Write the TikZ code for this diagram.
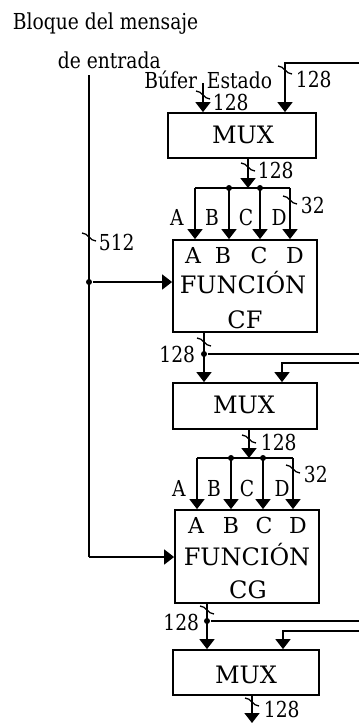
\documentclass[tikz,border=0pt]{standalone}
\usepackage{fontspec}
\setmainfont{DejaVu Serif}[FakeStretch=0.85]
\newfontfamily\boxfont{DejaVu Serif}
\usetikzlibrary{arrows.meta,calc}
\begin{document}
\begin{tikzpicture}[x=1pt,y=-1pt,
  line width=1.8pt,
  arr/.style={-{Triangle[width=15pt,length=10pt]}},
  box/.style={draw,line width=1.8pt,inner sep=0pt},
  lbl/.style={font=\fontsize{22}{24}\selectfont,inner sep=0pt,anchor=base},
  btxt/.style={font=\boxfont\fontsize{24}{26}\selectfont,inner sep=0pt,anchor=base},
  itxt/.style={font=\boxfont\fontsize{22}{24}\selectfont,inner sep=0pt,anchor=base},
  dot/.style={circle,fill,inner sep=0pt,minimum size=6pt},
  bustick/.pic={\draw[line width=1.3pt] (-7,-4) .. controls (-1,-4) and (1,4) .. (7,4);}
]
\useasboundingbox (0,0) rectangle (359,724);

% boxes
\node[box,minimum width=148pt,minimum height=45pt] (mux1) at (242,135.5) {};
\node[box,minimum width=144pt,minimum height=92pt] (cf) at (245,286) {};
\node[box,minimum width=144pt,minimum height=46pt] (mux2) at (245,406) {};
\node[box,minimum width=144pt,minimum height=93pt] (cg) at (247,556.5) {};
\node[box,minimum width=146pt,minimum height=45pt] (mux3) at (246,672.5) {};

% box texts
\node[btxt] (m1t) at (243,143) {MUX};
\node[itxt] (cfa) at (193,263) {A};
\node[itxt] (cfb) at (223,263) {B};
\node[itxt] (cfc) at (259,263) {C};
\node[itxt] (cfd) at (295,263) {D};
\node[btxt] (cff) at (243,293) {FUNCIÓN};
\node[btxt] (cfn) at (245,328) {CF};
\node[btxt] (m2t) at (244,413) {MUX};
\node[itxt] (cga) at (196,533) {A};
\node[itxt] (cgb) at (231,533) {B};
\node[itxt] (cgc) at (264,533) {C};
\node[itxt] (cgd) at (298,533) {D};
\node[btxt] (cgf) at (247,565) {FUNCIÓN};
\node[btxt] (cgn) at (248,598) {CG};
\node[btxt] (m3t) at (246,683) {MUX};

% top texts
\node[lbl,anchor=base west] (t1) at (12,29) {Bloque del mensaje};
\node[lbl,anchor=base west] (t2) at (57,68) {de entrada};
\node[lbl,anchor=base east] (tb) at (198,88) {Búfer};
\node[lbl,anchor=base west] (te) at (206,88) {Estado};

% MUX1 inputs
\coordinate (inL) at (203,83);
\draw[arr] (inL) -- (inL |- mux1.north);
\pic at (203,95) {bustick};
\node[lbl,anchor=base west] (l1) at (212,110) {128};
\coordinate (inR) at (359,63);
\coordinate (inRc) at (285,63);
\draw[arr] (inR) -- (inRc) -- (inRc |- mux1.north);
\pic at (285,70) {bustick};
\node[lbl,anchor=base west] (l2) at (295,87) {128};

% MUX1 output and bus 1
\coordinate (o1) at (248,158);
\coordinate (b1) at (248,188);
\draw[arr] (o1) -- (b1);
\pic at (248,167) {bustick};
\node[lbl,anchor=base west] (l3) at (257,178) {128};
\coordinate (b1a) at (195,188);
\coordinate (b1b) at (229,188);
\coordinate (b1c) at (260,188);
\coordinate (b1d) at (290,188);
\draw (b1a) -- (b1d);
\node[dot] (d1b) at (b1b) {};
\node[dot] (d1c) at (b1c) {};
\draw[arr] (b1a) -- (b1a |- cf.north);
\draw[arr] (b1b) -- (b1b |- cf.north);
\draw[arr] (b1c) -- (b1c |- cf.north);
\draw[arr] (b1d) -- (b1d |- cf.north);
\pic at (290,200) {bustick};
\node[lbl,anchor=base west] (l4) at (300,213) {32};
\node[lbl] (oa1) at (177,225) {A};
\node[lbl] (ob1) at (212,225) {B};
\node[lbl] (oc1) at (246,225) {C};
\node[lbl] (od1) at (279,225) {D};

% message input
\coordinate (msg) at (89,75);
\coordinate (msgb) at (89,557);
\node[dot] (dm) at (89,282) {};
\draw (msg) -- (msgb);
\draw[arr] (dm) -- (dm -| cf.west);
\draw[arr] (msgb) -- (msgb -| cg.west);
\pic at (89,237) {bustick};
\node[lbl,anchor=base west] (l5) at (98,250) {512};

% CF output to MUX2
\coordinate (o2) at (204,332);
\node[dot] (d2) at (204,354) {};
\draw[arr] (o2) -- (o2 |- mux2.north);
\draw (d2) -- (359,354);
\pic at (204,342) {bustick};
\node[lbl,anchor=base east] (l6) at (196,362) {128};
\coordinate (in2R) at (359,363);
\coordinate (in2c) at (282,363);
\draw[arr] (in2R) -- (in2c) -- (in2c |- mux2.north);

% MUX2 output and bus 2
\coordinate (o3) at (249,429);
\coordinate (b2) at (249,458);
\draw[arr] (o3) -- (b2);
\pic at (249,439) {bustick};
\node[lbl,anchor=base west] (l7) at (260,450) {128};
\coordinate (b2a) at (197,458);
\coordinate (b2b) at (231,458);
\coordinate (b2c) at (263,458);
\coordinate (b2d) at (293,458);
\draw (b2a) -- (b2d);
\node[dot] (d2b) at (b2b) {};
\node[dot] (d2c) at (b2c) {};
\draw[arr] (b2a) -- (b2a |- cg.north);
\draw[arr] (b2b) -- (b2b |- cg.north);
\draw[arr] (b2c) -- (b2c |- cg.north);
\draw[arr] (b2d) -- (b2d |- cg.north);
\pic at (293,469) {bustick};
\node[lbl,anchor=base west] (l8) at (303,482) {32};
\node[lbl] (oa2) at (179,496) {A};
\node[lbl] (ob2) at (214,496) {B};
\node[lbl] (oc2) at (247,496) {C};
\node[lbl] (od2) at (282,496) {D};

% CG output to MUX3
\coordinate (o4) at (207,603);
\node[dot] (d3) at (207,621) {};
\draw[arr] (o4) -- (o4 |- mux3.north);
\draw (d3) -- (359,621);
\pic at (207,610) {bustick};
\node[lbl,anchor=base east] (l9) at (200,630) {128};
\coordinate (in3R) at (359,631);
\coordinate (in3c) at (283,631);
\draw[arr] (in3R) -- (in3c) -- (in3c |- mux3.north);

% MUX3 output
\coordinate (o5) at (252,695);
\coordinate (e5) at (252,723);
\draw[arr] (o5) -- (e5);
\pic at (252,702) {bustick};
\node[lbl,anchor=base west] (l10) at (263,717) {128};
\end{tikzpicture}
\end{document}
